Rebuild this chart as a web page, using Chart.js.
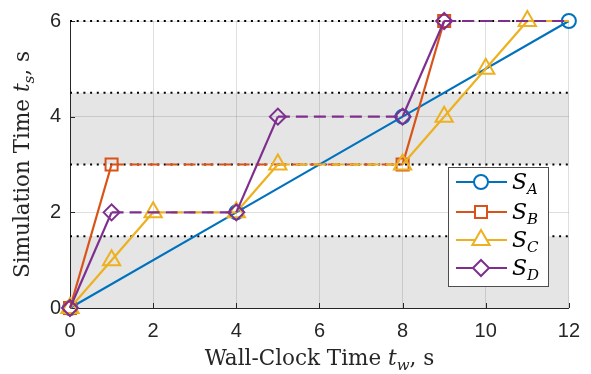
<!DOCTYPE html>
<html>
<head>
<meta charset="utf-8">
<script src="https://cdn.jsdelivr.net/npm/chart.js@4/dist/chart.umd.min.js"></script>
<style>
  html, body { margin: 0; padding: 0; background: #fff; }
  #wrap { width: 591px; height: 374px; }
</style>
</head>
<body>
<div id="wrap"><canvas id="c"></canvas></div>
<script>
// Wall-clock vs simulation time for four schedules.
const aX = [0, 4, 8, 12];
const aY = [0, 2, 4, 6];
const bX = [0, 1, 8, 9, 12];
const bY = [0, 3, 3, 6, 6];
const cX = [0, 1, 2, 4, 5, 8, 9, 10, 11, 12];
const cY = [0, 1, 2, 2, 3, 3, 4, 5, 6, 6];
const dX = [0, 1, 4, 5, 8, 9, 12];
const dY = [0, 2, 2, 4, 4, 6, 6];

const xTicks = [0, 2, 4, 6, 8, 10, 12];
const yTicks = [0, 2, 4, 6];
const bands = [[0, 1.5], [3, 4.5]];
const dottedLevels = [1.5, 3, 4.5, 6];

const BLUE = "#0072BD", ORANGE = "#D95319", YELLOW = "#EDB120", PURPLE = "#7E2F8E";
const AXIS = "#262626";
const SERIF = '"DejaVu Serif", "Liberation Serif", serif';

function pts(xs, ys) {
  return xs.map((x, i) => ({ x: x, y: ys[i] }));
}

// last point of B, C, D is only there to carry the dashed tail, no marker
function radii(n, r, lastHidden) {
  const out = new Array(n).fill(r);
  if (lastHidden) out[n - 1] = 0;
  return out;
}

const waitDash = (ctx) => (ctx.p0.parsed.y === ctx.p1.parsed.y ? [12, 6] : undefined);

function series(label, xs, ys, color, style, r, order, tail) {
  return {
    label: label,
    data: pts(xs, ys),
    borderColor: color,
    backgroundColor: "rgba(0,0,0,0)",
    pointBorderColor: color,
    pointBackgroundColor: "rgba(0,0,0,0)",
    borderWidth: 2.2,
    pointBorderWidth: 2,
    pointStyle: style,
    pointRadius: radii(xs.length, r, tail),
    pointHoverRadius: radii(xs.length, r, tail),
    tension: 0,
    order: order,
    clip: false,
    segment: { borderDash: waitDash },
    _r: r,
  };
}

const datasets = [
  series("A", aX, aY, BLUE, "circle", 7, 4, false),
  series("B", bX, bY, ORANGE, "rect", 8.5, 3, true),
  series("C", cX, cY, YELLOW, "triangle", 10, 2, true),
  series("D", dX, dY, PURPLE, "rectRot", 8, 1, true),
];

const bandPlugin = {
  id: "bands",
  beforeDraw(chart) {
    const { ctx, chartArea: ca, scales } = chart;
    ctx.save();
    ctx.fillStyle = "#e5e5e5";
    bands.forEach(([lo, hi]) => {
      const y1 = scales.y.getPixelForValue(hi);
      const y0 = scales.y.getPixelForValue(lo);
      ctx.fillRect(ca.left, y1, ca.right - ca.left, y0 - y1);
    });
    ctx.restore();
  },
  beforeDatasetsDraw(chart) {
    const { ctx, chartArea: ca, scales } = chart;
    ctx.save();
    // inward tick marks
    ctx.strokeStyle = AXIS;
    ctx.lineWidth = 1;
    ctx.beginPath();
    xTicks.forEach((v) => {
      const x = Math.round(scales.x.getPixelForValue(v)) + 0.5;
      ctx.moveTo(x, ca.bottom);
      ctx.lineTo(x, ca.bottom - 5);
    });
    yTicks.forEach((v) => {
      const y = Math.round(scales.y.getPixelForValue(v)) + 0.5;
      ctx.moveTo(ca.left, y);
      ctx.lineTo(ca.left + 5, y);
    });
    ctx.stroke();
    // dotted reference levels
    ctx.strokeStyle = "#000";
    ctx.lineWidth = 2;
    ctx.setLineDash([2, 4.7]);
    dottedLevels.forEach((v) => {
      const y = scales.y.getPixelForValue(v);
      ctx.beginPath();
      ctx.moveTo(ca.left, y);
      ctx.lineTo(ca.right, y);
      ctx.stroke();
    });
    ctx.restore();
  },
};

// draw runs of text, some italic, some lowered as subscripts
function drawRuns(ctx, runs, cx, cy, size) {
  const fontOf = (r) => (r.it ? "italic " : "") + (r.sub ? size * 0.7 : size) + "px " + SERIF;
  let total = 0;
  runs.forEach((r) => { ctx.font = fontOf(r); total += ctx.measureText(r.t).width; });
  let x = cx - total / 2;
  runs.forEach((r) => {
    ctx.font = fontOf(r);
    ctx.fillText(r.t, x, cy + (r.sub ? size * 0.25 : 0));
    x += ctx.measureText(r.t).width;
  });
}

const titlePlugin = {
  id: "titles",
  afterDraw(chart) {
    const { ctx, chartArea: ca } = chart;
    ctx.save();
    ctx.fillStyle = AXIS;
    ctx.textBaseline = "alphabetic";
    ctx.textAlign = "left";
    drawRuns(ctx, [
      { t: "Wall-Clock Time " }, { t: "t", it: true }, { t: "w", it: true, sub: true }, { t: ", s" },
    ], (ca.left + ca.right) / 2, 365, 21.5);
    ctx.translate(29, (ca.top + ca.bottom) / 2);
    ctx.rotate(-Math.PI / 2);
    drawRuns(ctx, [
      { t: "Simulation Time " }, { t: "t", it: true }, { t: "s", it: true, sub: true }, { t: ", s" },
    ], 0, 0, 21.5);
    ctx.restore();
  },
};

const legendPlugin = {
  id: "mlegend",
  afterDraw(chart) {
    const { ctx } = chart;
    const bx = 448, by = 167, bw = 100, bh = 119;
    ctx.save();
    ctx.fillStyle = "#fff";
    ctx.fillRect(bx, by, bw, bh);
    ctx.strokeStyle = "#4d4d4d";
    ctx.lineWidth = 1;
    ctx.strokeRect(bx + 0.5, by + 0.5, bw, bh);
    const rows = [182, 212, 240, 268];
    datasets.forEach((ds, i) => {
      const y = rows[i];
      ctx.strokeStyle = ds.borderColor;
      ctx.lineWidth = 2;
      ctx.setLineDash([]);
      ctx.beginPath();
      ctx.moveTo(456, y);
      ctx.lineTo(507, y);
      ctx.stroke();
      ctx.fillStyle = "#fff";
      Chart.helpers.drawPoint(ctx, {
        pointStyle: ds.pointStyle, radius: ds._r, rotation: 0, borderWidth: 2,
      }, 481, y);
      ctx.fillStyle = "#000";
      ctx.textAlign = "left";
      ctx.font = "italic 22px " + SERIF;
      ctx.fillText("S", 512, y + 7);
      const w = ctx.measureText("S").width;
      ctx.font = "italic 15px " + SERIF;
      ctx.fillText(ds.label, 512 + w, y + 12);
    });
    ctx.restore();
  },
};

new Chart(document.getElementById("c"), {
  type: "line",
  data: { datasets: datasets },
  plugins: [bandPlugin, titlePlugin, legendPlugin],
  options: {
    responsive: true,
    maintainAspectRatio: false,
    animation: false,
    events: [],
    layout: { padding: { top: 20, right: 21, left: 0, bottom: 0 } },
    plugins: { legend: { display: false }, tooltip: { enabled: false } },
    scales: {
      x: {
        type: "linear",
        min: 0, max: 12,
        afterBuildTicks: (s) => { s.ticks = xTicks.map((v) => ({ value: v })); },
        afterFit: (s) => { s.height = 66; },
        ticks: { color: AXIS, padding: 11, font: { family: '"Liberation Sans", Arial, sans-serif', size: 20 } },
        grid: { color: "rgba(38,38,38,0.15)", drawTicks: false },
        border: { display: true, color: AXIS, width: 1 },
      },
      y: {
        type: "linear",
        min: 0, max: 6,
        afterBuildTicks: (s) => { s.ticks = yTicks.map((v) => ({ value: v })); },
        afterFit: (s) => { s.width = 70; },
        ticks: { color: AXIS, padding: 9, font: { family: '"Liberation Sans", Arial, sans-serif', size: 20 } },
        grid: { color: "rgba(38,38,38,0.15)", drawTicks: false },
        border: { display: true, color: AXIS, width: 1 },
      },
    },
  },
});
</script>
</body>
</html>
